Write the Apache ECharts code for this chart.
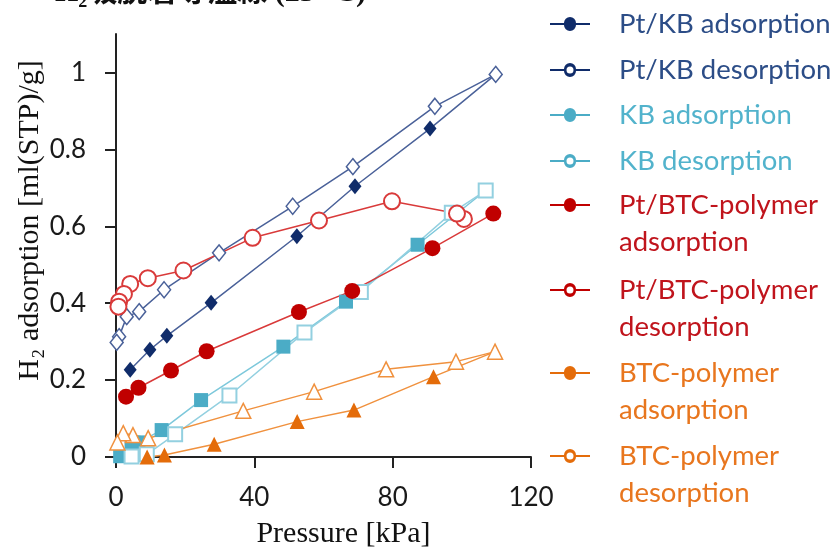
<!DOCTYPE html>
<html>
<head>
<meta charset="utf-8">
<script src="https://cdn.jsdelivr.net/npm/echarts@6/dist/echarts.min.js"></script>
<style>
  html, body { margin: 0; padding: 0; background: #fff; }
  #chart { width: 837px; height: 547px; }
</style>
</head>
<body>
<div id="chart"></div>
<script>
// pressure [kPa] and uptake [ml(STP)/g]
const ptKbAdsP = [4.1, 9.8, 14.7, 27.5, 52.3, 69.1, 90.8, 109.8];
const ptKbAdsV = [0.227, 0.279, 0.315, 0.401, 0.574, 0.704, 0.854, 0.995];
const ptKbDesP = [109.8, 92.2, 68.5, 51.1, 29.8, 13.9, 6.7, 3.1, 0.9, 0.2];
const ptKbDesV = [0.995, 0.912, 0.755, 0.652, 0.531, 0.435, 0.378, 0.365, 0.313, 0.298];

const kbAdsP = [1.2, 4.5, 6.5, 13.2, 24.6, 48.4, 66.5, 87.2, 106.9];
const kbAdsV = [0.002, 0.030, 0.038, 0.070, 0.148, 0.287, 0.404, 0.552, 0.693];
const kbDesP = [106.9, 97.1, 70.8, 54.5, 32.8, 17.1, 8.9, 4.5];
const kbDesV = [0.693, 0.635, 0.429, 0.324, 0.160, 0.059, 0.007, 0.001];

const ptBtcAdsP = [2.9, 6.5, 15.9, 26.2, 52.9, 68.3, 91.5, 109.1];
const ptBtcAdsV = [0.157, 0.180, 0.225, 0.275, 0.377, 0.432, 0.543, 0.633];
const ptBtcDesP = [100.6, 98.6, 79.8, 58.7, 39.5, 19.5, 9.2, 4.1, 2.3, 0.9, 0.7];
const ptBtcDesV = [0.619, 0.633, 0.665, 0.615, 0.570, 0.485, 0.465, 0.450, 0.424, 0.404, 0.391];

const btcAdsP = [9.0, 14.0, 28.4, 52.4, 68.8, 91.8, 109.6];
const btcAdsV = [0.000, 0.005, 0.033, 0.092, 0.122, 0.209, 0.274];
const btcDesP = [109.6, 98.3, 78.1, 57.3, 36.8, 9.3, 4.9, 2.1, 0.4];
const btcDesV = [0.274, 0.248, 0.228, 0.170, 0.120, 0.049, 0.057, 0.062, 0.038];

const xTicks = [0, 40, 80, 120];
const yTicks = [0, 0.2, 0.4, 0.6, 0.8, 1];

const seriesNames = [
  'Pt/KB adsorption', 'Pt/KB desorption',
  'KB adsorption', 'KB desorption',
  'Pt/BTC-polymer\nadsorption', 'Pt/BTC-polymer\ndesorption',
  'BTC-polymer\nadsorption', 'BTC-polymer\ndesorption'
];

function zip(xs, ys) {
  return xs.map((x, i) => [x, ys[i]]);
}

// legend icon: short line with a dot (filled) or a ring (open)
const dotIcon = 'path://M0,9L14,9A6,6 0 1 1 26,9L40,9L40,11L26,11A6,6 0 1 1 14,11L0,11Z';
const ringIcon = dotIcon + 'M20,6.5A3.5,3.5 0 1 0 20,13.5A3.5,3.5 0 1 0 20,6.5Z';

const navy = '#102c6a', navyLine = '#4a6199', navyText = '#2c4d87';
const teal = '#4bacc6', tealLine = '#7dc8db', tealOpen = '#93d0e0', tealText = '#52b3cc';
const red = '#c00000', redLine = '#d93a3a', redText = '#c0141c';
const orange = '#e46c0a', orangeLine = '#f0913e', orangeText = '#e8761e';

const legendColors = [navy, navy, teal, teal, red, red, orange, orange];
const legendTextColors = [navyText, navyText, tealText, tealText, redText, redText, orangeText, orangeText];
const legendIconY = [24, 70, 115, 161, 205, 290, 373, 456];
const lineH = 37;

// one legend per entry so each can sit where the picture has it;
// two-line names get an empty first line so the icon lines up with the first text line
const legends = seriesNames.map((name, i) => {
  const twoLines = name.indexOf('\n') >= 0;
  return {
    orient: 'vertical',
    left: 550,
    top: legendIconY[i] - (twoLines ? lineH * 1.5 : lineH / 2),
    padding: 0,
    itemWidth: 40,
    itemHeight: 14,
    selectedMode: false,
    formatter: n => (n.indexOf('\n') >= 0 ? '\n' + n : n),
    data: [{
      name: name,
      icon: i % 2 === 0 ? dotIcon : ringIcon,
      itemStyle: { color: legendColors[i], borderWidth: 0 }
    }],
    textStyle: {
      fontFamily: 'Lato',
      fontSize: 27.5,
      lineHeight: lineH,
      color: legendTextColors[i],
      padding: [0, 0, 0, 24]
    }
  };
});

function lineSeries(name, data, symbol, size, fill, border, line, borderWidth) {
  return {
    name: name,
    type: 'line',
    data: data,
    symbol: symbol,
    symbolSize: size,
    showAllSymbol: true,
    lineStyle: { color: line, width: 1.5 },
    itemStyle: { color: fill, borderColor: border, borderWidth: borderWidth },
    emphasis: { disabled: true },
    animation: false
  };
}

const chart = echarts.init(document.getElementById('chart'));

chart.setOption({
  backgroundColor: '#fff',
  textStyle: { fontFamily: 'Lato' },
  graphic: [{
    type: 'text',
    left: 55,
    top: -22,
    style: {
      text: 'H₂吸脱着等温線 (25 °C)',
      font: 'bold 30px "Liberation Serif", "Noto Sans CJK JP"',
      fill: '#111'
    }
  }],
  legend: legends,
  grid: { left: 116, right: 306, top: 34, bottom: 90, outerBoundsMode: 'none' },
  xAxis: {
    type: 'value',
    min: xTicks[0],
    max: xTicks[xTicks.length - 1],
    interval: 40,
    name: 'Pressure [kPa]',
    nameLocation: 'middle',
    nameGap: 62,
    nameTextStyle: {
      fontFamily: 'Liberation Serif', fontSize: 30, color: '#111',
      padding: [0, 0, 0, 40]
    },
    axisLine: { show: true, lineStyle: { color: '#222', width: 2 } },
    axisTick: { show: true, length: 11, lineStyle: { color: '#222', width: 2 } },
    axisLabel: { fontFamily: 'Lato', fontSize: 26, color: '#1a1a1a', margin: 28 },
    splitLine: { show: false }
  },
  yAxis: {
    type: 'value',
    min: 0,
    max: 1.1,
    interval: 0.2,
    name: 'H₂ adsorption [ml(STP)/g]',
    nameLocation: 'middle',
    nameGap: 71,
    nameTextStyle: {
      fontFamily: 'Liberation Serif', fontSize: 30, color: '#111',
      padding: [0, 0, 0, 50]
    },
    axisLine: { show: true, lineStyle: { color: '#222', width: 2 } },
    axisTick: { show: true, length: 11, customValues: yTicks, lineStyle: { color: '#222', width: 2 } },
    axisLabel: { fontFamily: 'Lato', fontSize: 26, color: '#1a1a1a', margin: 30, customValues: yTicks },
    splitLine: { show: false }
  },
  series: [
    lineSeries(seriesNames[0], zip(ptKbAdsP, ptKbAdsV), 'diamond', [13, 16], navy, navy, navyLine, 0),
    lineSeries(seriesNames[1], zip(ptKbDesP, ptKbDesV), 'diamond', [13, 16], '#fff', navyLine, navyLine, 1.5),
    lineSeries(seriesNames[2], zip(kbAdsP, kbAdsV), 'rect', 14, teal, teal, tealLine, 0),
    lineSeries(seriesNames[3], zip(kbDesP, kbDesV), 'rect', 14, '#fff', tealOpen, tealOpen, 2),
    lineSeries(seriesNames[4], zip(ptBtcAdsP, ptBtcAdsV), 'circle', 16, red, red, redLine, 0),
    lineSeries(seriesNames[5], zip(ptBtcDesP, ptBtcDesV), 'circle', 16, '#fff', redLine, redLine, 2),
    lineSeries(seriesNames[6], zip(btcAdsP, btcAdsV), 'triangle', 15, orange, orange, orangeLine, 0),
    lineSeries(seriesNames[7], zip(btcDesP, btcDesV), 'triangle', 15, '#fff', orangeLine, orangeLine, 1.5)
  ]
});
</script>
</body>
</html>
